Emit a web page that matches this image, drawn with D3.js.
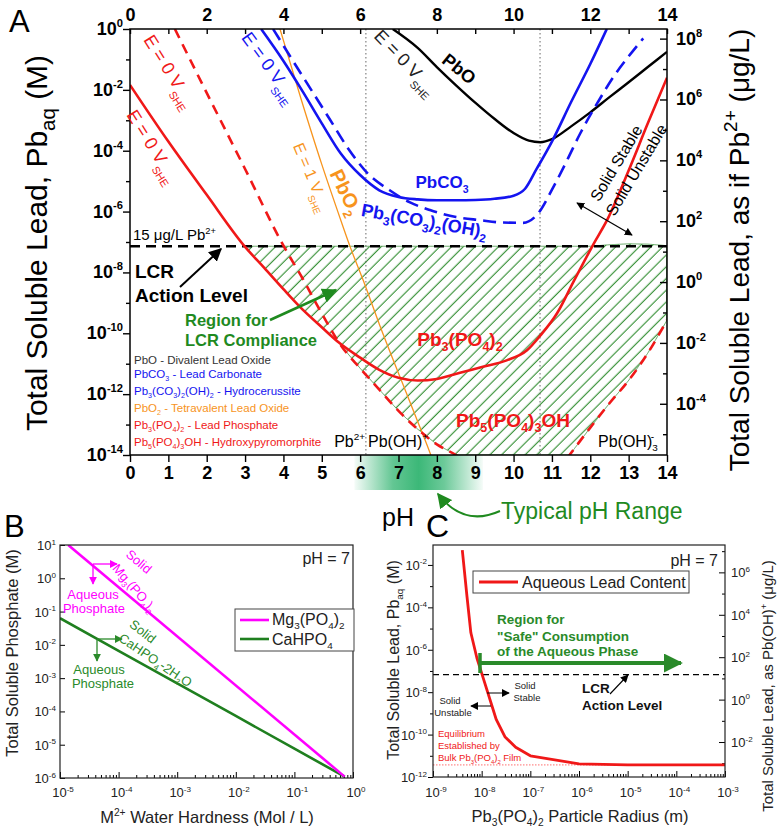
<!DOCTYPE html>
<html><head><meta charset="utf-8">
<script src="https://cdn.jsdelivr.net/npm/d3@7"></script>
<style>body{margin:0;background:#fff}svg{display:block}</style>
</head><body>
<svg id="c" width="777" height="831"></svg>
<script>
const FONT = "'Liberation Sans', Arial, Helvetica, sans-serif";

// ================= DATA =================
// Panel A : x = pH, y = log10 (total soluble lead, M)
const pHTicks = d3.range(0, 15);
const pHTopLabels = [0, 2, 4, 6, 8, 10, 12, 14];
const leftExpA = [0, -2, -4, -6, -8, -10, -12, -14];
const leftMinorExpA = [-1, -3, -5, -7, -9, -11, -13];
const rightExpA = [8, 6, 4, 2, 0, -2, -4];
const rightMinorExpA = [7, 5, 3, 1, -1, -3, -5];
const ugPerMolPb = 2.072e8;      // Pb2+
const ugPerMolPbOH = 2.242e8;    // Pb(OH)+
const lcrUgL = 15;

const pb3PO4 = [[0,-1.84],[1,-3.70],[2,-5.45],[3,-7.16],[3.5,-7.85],[4,-8.55],[4.43,-9.13],[5,-9.8],[5.47,-10.33],[6,-10.8],[6.5,-11.2],[7,-11.46],[7.5,-11.55],[8,-11.5],[8.68,-11.27],[9.2,-11.1],[9.82,-10.89],[10.35,-10.56],[10.7,-10.07],[11.13,-9.35],[11.56,-8.31],[12.07,-7.1],[12.45,-6.25],[13,-4.65],[13.5,-3.1],[14,-1.6]];
const pb5Left = [[1.17,0],[2,-2.1],[3,-4.6],[4,-7.12],[4.5,-8.2],[5,-9.35],[5.5,-10.4],[6,-11.15],[6.5,-11.85],[7,-12.55],[7.5,-13.15],[8,-13.65],[8.5,-14.0],[8.7,-14.15]];
const pb5Right = [[11.4,-14.1],[12,-13.1],[12.5,-12.3],[13,-11.55],[13.5,-10.65],[14,-9.57]];
const pbCO3 = [[3.42,0],[4,-1.05],[4.5,-2.05],[5,-3.1],[5.5,-4.1],[6,-4.8],[6.5,-5.3],[7,-5.52],[7.5,-5.6],[8,-5.63],[8.5,-5.63],[9,-5.62],[9.5,-5.58],[10,-5.48],[10.3,-5.25],[10.6,-4.6],[11,-3.7],[11.5,-2.4],[12,-1.15],[12.43,0]];
const hydrocerussite = [[3.73,0],[4.2,-0.95],[4.7,-1.95],[5.2,-2.95],[5.7,-3.95],[6.2,-4.75],[6.77,-5.3],[7.3,-5.7],[7.82,-5.95],[8.5,-6.18],[9.12,-6.28],[9.7,-6.36],[10.25,-6.37],[10.6,-6.12],[11.04,-5.19],[11.4,-4.3],[11.73,-3.45],[12.2,-2.4],[12.6,-1.58],[13,-0.9],[13.38,-0.31]];
const pbO = [[6.85,0],[7.5,-0.62],[8,-1.25],[8.5,-1.85],[9,-2.42],[9.5,-2.95],[10,-3.42],[10.4,-3.67],[10.7,-3.72],[11,-3.62],[11.5,-3.2],[12,-2.74],[12.5,-2.24],[13,-1.75],[13.5,-1.25],[14,-0.75]];
const pbO2 = [[3.91,0],[4.47,-2.34],[5.0,-4.45],[5.5,-6.3],[5.74,-7.16],[6.08,-8.26],[6.5,-9.7],[7.04,-11.44],[7.5,-12.9],[7.83,-13.96],[7.9,-14.2]];
const hatchTop = [[2.99,-7.14],[12,-7.14],[12.5,-7.09],[13,-7.06],[13.5,-7.07],[14,-7.12]];
const speciationBoundaries = [6.15, 10.69];
const typicalPH = [5.85, 9.2];

// Panel B : water hardness (M) vs total soluble phosphate (M)
const hardTicksExp = [-5, -4, -3, -2, -1, 0];
const phosTicksExp = [1, 0, -1, -2, -3, -4, -5, -6];
const mgHardness = [1.38e-5, 0.72];
const mgPhosphate = [10, 1.1e-6];
const caHardness = [1e-5, 1e-4, 1e-3, 1e-2, 1e-1, 0.72];
const caPhosphate = [6.3e-2, 6.6e-3, 7.0e-4, 7.3e-5, 7.6e-6, 1.1e-6];

// Panel C : particle radius (m) vs aqueous lead (M)
const radiusTicksExp = [-9, -8, -7, -6, -5, -4, -3];
const leftExpC = [-2, -4, -6, -8, -10, -12];
const leftMinorExpC = [-3, -5, -7, -9, -11];
const rightExpC = [6, 4, 2, 0, -2];
const rightMinorExpC = [7, 5, 3, 1, -1, -3];
const radius = [4e-9, 5e-9, 6e-9, 8e-9, 1e-8, 2e-8, 3e-8, 5e-8, 1e-7, 1e-6, 1e-5, 1e-4, 1e-3];
const leadContentExp = [-1.3, -3.5, -5.2, -6.4, -7.1, -9.3, -10.1, -10.6, -11.0, -11.38, -11.43, -11.43, -11.43];
const bulkFilmExp = -11.43;

// ================= HELPERS =================
function parseRich(s) {
  const out = []; const re = /([_^])\{([^}]*)\}/g; let last = 0, m;
  while ((m = re.exec(s))) {
    if (m.index > last) out.push([s.slice(last, m.index), 'n']);
    out.push([m[2], m[1] === '_' ? 'sub' : 'sup']);
    last = re.lastIndex;
  }
  if (last < s.length) out.push([s.slice(last), 'n']);
  return out;
}
function rich(parent, s, o) {
  const fs = o.size || 14;
  const t = parent.append('text')
    .attr('x', o.x || 0).attr('y', o.y || 0)
    .attr('font-family', FONT).attr('font-size', fs)
    .attr('font-weight', o.weight || 'normal')
    .attr('fill', o.fill || '#000')
    .attr('text-anchor', o.anchor || 'start')
    .style('white-space', 'pre');
  if (o.transform) t.attr('transform', o.transform);
  const sc = o.scale || 0.62;
  let cur = 0;
  parseRich(s).forEach(([txt, k]) => {
    const off = k === 'sub' ? fs * (o.subOff ?? 0.28) : k === 'sup' ? -fs * (o.supOff ?? 0.42) : 0;
    const ts = t.append('tspan').text(txt);
    if (off !== cur) ts.attr('dy', off - cur);
    if (k !== 'n') ts.attr('font-size', fs * sc);
    cur = off;
  });
  return t;
}
function interp(arr, x) {
  if (x < arr[0][0] || x > arr[arr.length - 1][0]) return NaN;
  for (let i = 1; i < arr.length; i++) {
    if (x <= arr[i][0]) {
      const [x0, y0] = arr[i - 1], [x1, y1] = arr[i];
      return y0 + (y1 - y0) * (x - x0) / (x1 - x0);
    }
  }
  return arr[arr.length - 1][1];
}

const svg = d3.select('#c');
const defs = svg.append('defs');
function marker(id, color, size) {
  defs.append('marker').attr('id', id).attr('viewBox', '0 0 10 10')
    .attr('refX', 9).attr('refY', 5).attr('markerUnits', 'userSpaceOnUse')
    .attr('markerWidth', size).attr('markerHeight', size).attr('orient', 'auto-start-reverse')
    .append('path').attr('d', 'M0,0 L10,5 L0,10 z').attr('fill', color);
}
marker('ab', '#000', 13);
marker('abs', '#000', 8);
marker('ag', '#1f8a1f', 15);
marker('agb', '#2a8a2a', 19);
marker('am', '#ff00ff', 8);
marker('ag2', '#2a8a2a', 8);

const grad = defs.append('linearGradient').attr('id', 'phband').attr('x1', 0).attr('x2', 1).attr('y1', 0).attr('y2', 0);
[[0, 0.05], [0.3, 0.8], [0.5, 1], [0.7, 0.75], [1, 0.05]].forEach(([o, a]) =>
  grad.append('stop').attr('offset', o).attr('stop-color', '#3cb878').attr('stop-opacity', a));

defs.append('pattern').attr('id', 'hatch').attr('patternUnits', 'userSpaceOnUse')
  .attr('width', 8.3).attr('height', 8.3).attr('patternTransform', 'rotate(45)')
  .append('line').attr('x1', 4).attr('y1', 0).attr('x2', 4).attr('y2', 8.3)
  .attr('stroke', '#2e8b2e').attr('stroke-width', 1.1);

// ================= PANEL A =================
const gA = svg.append('g');
const xA = d3.scaleLinear().domain([0, 14]).range([130, 667]);
const yA = d3.scaleLog().domain([1e-14, 1]).range([455, 29]);
const yAr = d3.scaleLog().domain([1e-14 * ugPerMolPb, ugPerMolPb]).range([455, 29]);
const Y = v => yA(Math.pow(10, v));

defs.append('clipPath').attr('id', 'clipA').append('rect')
  .attr('x', 130).attr('y', 29).attr('width', 537).attr('height', 426);

// typical pH band
gA.append('rect').attr('x', xA(typicalPH[0])).attr('y', 455)
  .attr('width', xA(typicalPH[1]) - xA(typicalPH[0])).attr('height', 35)
  .attr('fill', 'url(#phband)');

const plotA = gA.append('g').attr('clip-path', 'url(#clipA)');

// hatch region (LCR compliance)
const lcrLog = Math.log10(lcrUgL / ugPerMolPb);
function pb5At(p) {
  let v = interp(pb5Left, p); if (!isNaN(v)) return v;
  v = interp(pb5Right, p); if (!isNaN(v)) return v;
  return p < pb5Left[0][0] ? 0 : -14;
}
const samples = d3.range(2.99, 14.0001, 0.02).map(p => {
  const hi = interp(hatchTop, Math.min(p, 14));
  let lo = Math.max(-14, Math.min(interp(pb3PO4, p), pb5At(p)));
  lo = Math.min(lo, hi);
  return { p, hi, lo };
});
plotA.append('path').datum(samples)
  .attr('d', d3.area().x(d => xA(d.p)).y0(d => Y(d.lo)).y1(d => Y(d.hi)))
  .attr('fill', 'url(#hatch)').attr('stroke', '#4f9a4f').attr('stroke-width', 0.9);

// speciation boundaries
speciationBoundaries.forEach(p => plotA.append('line')
  .attr('x1', xA(p)).attr('x2', xA(p)).attr('y1', 29).attr('y2', 455)
  .attr('stroke', '#666').attr('stroke-width', 1).attr('stroke-dasharray', '1.5,2.5'));

// LCR action level
plotA.append('line').attr('x1', 130).attr('x2', 667).attr('y1', Y(lcrLog)).attr('y2', Y(lcrLog))
  .attr('stroke', '#000').attr('stroke-width', 2.6).attr('stroke-dasharray', '10,6');

const lineA = d3.line().x(d => xA(d[0])).y(d => Y(d[1])).curve(d3.curveMonotoneX);
function curve(data, color, w, dash) {
  const p = plotA.append('path').attr('d', lineA(data)).attr('fill', 'none')
    .attr('stroke', color).attr('stroke-width', w).attr('stroke-linejoin', 'round');
  if (dash) p.attr('stroke-dasharray', dash);
}
const RED = '#f01818', BLUE = '#1414f0', ORANGE = '#f7941d', GREEN = '#1f8a1f';
curve(pbO2, ORANGE, 1.3);
curve(pbO, '#000', 2.4);
curve(hydrocerussite, BLUE, 2.6, '13,7');
curve(pbCO3, BLUE, 2.6);
curve(pb5Left, RED, 2.6, '10,7');
curve(pb5Right, RED, 2.6, '10,7');
curve(pb3PO4, RED, 2.6);

// frame
gA.append('rect').attr('x', 130).attr('y', 29).attr('width', 537).attr('height', 426)
  .attr('fill', 'none').attr('stroke', '#000').attr('stroke-width', 1.5);

// axes
function styleAxis(g) { g.select('.domain').remove(); g.selectAll('line').attr('stroke', '#000').attr('stroke-width', 1.4); }
gA.append('g').attr('transform', 'translate(0,455)')
  .call(d3.axisBottom(xA).tickValues(pHTicks).tickSize(7).tickPadding(4).tickFormat(d3.format('d')))
  .call(styleAxis)
  .selectAll('text').attr('font-family', FONT).attr('font-weight', 'bold').attr('font-size', 18).attr('fill', '#000');
gA.append('g').attr('transform', 'translate(0,29)')
  .call(d3.axisTop(xA).tickValues(pHTicks).tickSizeInner(-5).tickSizeOuter(0).tickPadding(8)
    .tickFormat(d => pHTopLabels.includes(d) ? d : ''))
  .call(styleAxis)
  .selectAll('text').attr('font-family', FONT).attr('font-weight', 'bold').attr('font-size', 18).attr('fill', '#000');
gA.append('g').attr('transform', 'translate(130,0)')
  .call(d3.axisLeft(yA).tickValues(leftExpA.map(e => Math.pow(10, e))).tickSize(7).tickFormat(''))
  .call(styleAxis);
gA.append('g').attr('transform', 'translate(130,0)')
  .call(d3.axisLeft(yA).tickValues(leftMinorExpA.map(e => Math.pow(10, e))).tickSize(4).tickFormat(''))
  .call(styleAxis);
gA.append('g').attr('transform', 'translate(667,0)')
  .call(d3.axisRight(yAr).tickValues(rightExpA.map(e => Math.pow(10, e))).tickSizeInner(-7).tickFormat(''))
  .call(styleAxis);
gA.append('g').attr('transform', 'translate(667,0)')
  .call(d3.axisRight(yAr).tickValues(rightMinorExpA.map(e => Math.pow(10, e))).tickSizeInner(-4).tickFormat(''))
  .call(styleAxis);
leftExpA.forEach(e => rich(gA, `10^{${e}}`, { x: 123, y: yA(Math.pow(10, e)) + 6, size: 18, weight: 'bold', anchor: 'end', supOff: 0.45 }));
rightExpA.forEach(e => rich(gA, `10^{${e}}`, { x: 676, y: yAr(Math.pow(10, e)) + 6, size: 18, weight: 'bold', supOff: 0.45 }));

// axis titles
rich(gA, 'Total Soluble Lead, Pb_{aq} (M)', { size: 30, anchor: 'middle', transform: 'translate(47,243) rotate(-90)', subOff: 0.25, scale: 0.68 });
rich(gA, 'Total Soluble Lead, as if Pb^{2+} (\u03bcg/L)', { size: 28, anchor: 'middle', transform: 'translate(749,250) rotate(-90)', scale: 0.68 });
rich(gA, 'pH', { x: 382, y: 526, size: 25 });
rich(svg, 'A', { x: 9, y: 32, size: 31 });
rich(svg, 'B', { x: 4, y: 537, size: 31 });
rich(svg, 'C', { x: 426, y: 537, size: 32 });

// E labels along curves
function eLabel(txt, cx, cy, ang, color, size) {
  rich(gA, txt, { size, fill: color, anchor: 'middle', transform: `translate(${cx},${cy}) rotate(${ang})`, y: size * 0.35, subOff: 0.42, scale: 0.6 });
}
eLabel('E = 0 V_{SHE}', 153, 146, 58, RED, 18);
eLabel('E = 0 V_{SHE}', 170, 71, 58, RED, 18);
eLabel('E = 0 V_{SHE}', 270, 67, 54, BLUE, 18);
eLabel('E = 1 V_{SHE}', 312, 177, 67, ORANGE, 16);
eLabel('E = 0 V_{SHE}', 406, 62, 46, '#222', 18);
rich(gA, 'PbO_{2}', { size: 20, weight: 'bold', fill: ORANGE, anchor: 'middle', transform: 'translate(346,192) rotate(64)', y: 7 });
rich(gA, 'PbO', { size: 18, weight: 'bold', fill: '#000', anchor: 'middle', transform: 'translate(459,69) rotate(39)', y: 6 });
rich(gA, 'PbCO_{3}', { x: 442, y: 188, size: 17, weight: 'bold', fill: BLUE, anchor: 'middle' });
rich(gA, 'Pb_{3}(CO_{3})_{2}(OH)_{2}', { size: 18, weight: 'bold', fill: BLUE, anchor: 'middle', transform: 'translate(424,222) rotate(10)', y: 5, scale: 0.66 });
rich(gA, 'Pb_{3}(PO_{4})_{2}', { x: 460, y: 346, size: 19, weight: 'bold', fill: RED, anchor: 'middle', scale: 0.66 });
rich(gA, 'Pb_{5}(PO_{4})_{3}OH', { x: 513, y: 427, size: 19, weight: 'bold', fill: RED, anchor: 'middle', scale: 0.66 });

// LCR annotations
rich(gA, '15 \u03bcg/L Pb^{2+}', { x: 133, y: 240, size: 15 });
rich(gA, 'LCR', { x: 135, y: 278, size: 19, weight: 'bold' });
rich(gA, 'Action Level', { x: 135, y: 302, size: 19, weight: 'bold' });
gA.append('line').attr('x1', 180).attr('y1', 287).attr('x2', 221).attr('y2', 249)
  .attr('stroke', '#000').attr('stroke-width', 2).attr('marker-end', 'url(#ab)');
rich(gA, 'Region for', { x: 185, y: 326, size: 16.5, weight: 'bold', fill: GREEN });
rich(gA, 'LCR Compliance', { x: 185, y: 346, size: 16.5, weight: 'bold', fill: GREEN });
gA.append('line').attr('x1', 270).attr('y1', 320).attr('x2', 336).attr('y2', 290)
  .attr('stroke', GREEN).attr('stroke-width', 2.6).attr('marker-end', 'url(#ag)');

// species legend
const legA = [
  ['PbO - Divalent Lead Oxide', '#333'],
  ['PbCO_{3} - Lead Carbonate', BLUE],
  ['Pb_{3}(CO_{3})_{2}(OH)_{2} - Hydrocerussite', BLUE],
  ['PbO_{2} - Tetravalent Lead Oxide', ORANGE],
  ['Pb_{3}(PO_{4})_{2} - Lead Phosphate', RED],
  ['Pb_{5}(PO_{4})_{3}OH - Hydroxypyromorphite', RED]
];
const legY = [364, 378, 395, 412, 429, 446];
legA.forEach(([t, c], i) => rich(gA, t, { x: 134, y: legY[i], size: 11.5, fill: c }));

// speciation labels
rich(gA, 'Pb^{2+}', { x: 365, y: 447, size: 16, anchor: 'end' });
rich(gA, 'Pb(OH)^{+}', { x: 368, y: 447, size: 16 });
const t3 = rich(gA, 'Pb(OH)_{3}', { x: 598, y: 447, size: 16 });
t3.append('tspan').attr('dx', -7).attr('dy', -16 * 0.28 - 16 * 0.42).attr('font-size', 10).text('-');

// solid stable / unstable
rich(gA, 'Solid Stable', { size: 16, anchor: 'middle', transform: 'translate(621,166) rotate(-59)' });
rich(gA, 'Solid Unstable', { size: 16, anchor: 'middle', transform: 'translate(630,166) rotate(-59)', y: 13 });
gA.append('line').attr('x1', 577).attr('y1', 203).attr('x2', 632).attr('y2', 235)
  .attr('stroke', '#000').attr('stroke-width', 1.3)
  .attr('marker-start', 'url(#abs)').attr('marker-end', 'url(#abs)');

// typical pH range
rich(svg, 'Typical pH Range', { x: 501, y: 519, size: 23, fill: GREEN });
svg.append('path').attr('d', 'M 500 511 C 480 520, 458 520, 438 494')
  .attr('fill', 'none').attr('stroke', GREEN).attr('stroke-width', 2)
  .attr('marker-end', 'url(#ag)');

// ================= PANEL B =================
const gB = svg.append('g');
const xB = d3.scaleLog().domain([1e-5, 1]).range([60, 353]);
const yB = d3.scaleLog().domain([1e-6, 10]).range([778, 545]);
defs.append('clipPath').attr('id', 'clipB').append('rect').attr('x', 60).attr('y', 545).attr('width', 293).attr('height', 233);
const minorB = [];
hardTicksExp.slice(0, -1).forEach(e => d3.range(2, 10).forEach(m => minorB.push(m * Math.pow(10, e))));
gB.append('g').attr('transform', 'translate(0,778)')
  .call(d3.axisBottom(xB).tickValues(minorB).tickSizeInner(-3).tickSizeOuter(0).tickFormat('')).call(styleAxis);
gB.append('g').attr('transform', 'translate(0,778)')
  .call(d3.axisBottom(xB).tickValues(hardTicksExp.map(e => Math.pow(10, e))).tickSizeInner(-6).tickSizeOuter(0).tickFormat('')).call(styleAxis);
gB.append('g').attr('transform', 'translate(60,0)')
  .call(d3.axisLeft(yB).tickValues(phosTicksExp.map(e => Math.pow(10, e))).tickSizeInner(-5).tickSizeOuter(0).tickFormat('')).call(styleAxis);
gB.selectAll('line').attr('stroke-width', 1);
hardTicksExp.forEach(e => rich(gB, `10^{${e}}`, { x: xB(Math.pow(10, e)) + 3, y: 797, size: 13, anchor: 'middle', fill: '#222' }));
phosTicksExp.forEach(e => rich(gB, `10^{${e}}`, { x: 56, y: yB(Math.pow(10, e)) + 5, size: 13, anchor: 'end', fill: '#222' }));
const lineB = d3.line().x(d => xB(d[0])).y(d => yB(d[1]));
const pB = gB.append('g').attr('clip-path', 'url(#clipB)');
pB.append('path').attr('d', lineB(d3.zip(caHardness, caPhosphate))).attr('fill', 'none').attr('stroke', '#1f7f1f').attr('stroke-width', 2.6);
pB.append('path').attr('d', lineB(d3.zip(mgHardness, mgPhosphate))).attr('fill', 'none').attr('stroke', '#ff00ff').attr('stroke-width', 2.6);
gB.append('rect').attr('x', 60).attr('y', 545).attr('width', 293).attr('height', 233).attr('fill', 'none').attr('stroke', '#222').attr('stroke-width', 1.2);
rich(gB, 'M^{2+} Water Hardness (Mol / L)', { x: 207, y: 823, size: 16.5, anchor: 'middle', fill: '#222' });
rich(gB, 'Total Soluble Phosphate (M)', { size: 16.5, anchor: 'middle', fill: '#222', transform: 'translate(18,653) rotate(-90)' });
rich(gB, 'pH = 7', { x: 350, y: 564, size: 16, anchor: 'end', fill: '#222' });
// legend
gB.append('rect').attr('x', 235).attr('y', 609).attr('width', 119).attr('height', 42).attr('fill', '#fff').attr('stroke', '#444').attr('stroke-width', 1);
gB.append('line').attr('x1', 240).attr('x2', 269).attr('y1', 620).attr('y2', 620).attr('stroke', '#ff00ff').attr('stroke-width', 2.6);
gB.append('line').attr('x1', 240).attr('x2', 269).attr('y1', 639).attr('y2', 639).attr('stroke', '#1f7f1f').attr('stroke-width', 2.6);
rich(gB, 'Mg_{3}(PO_{4})_{2}', { x: 272, y: 625, size: 16, fill: '#222', subOff: 0.22 });
rich(gB, 'CaHPO_{4}', { x: 272, y: 645, size: 16, fill: '#222', subOff: 0.22 });
// annotations
const MAG = '#ff00ff', GRN = '#2a8a2a';
rich(gB, 'Solid', { size: 13, fill: MAG, anchor: 'middle', transform: 'translate(136,565) rotate(40)' });
rich(gB, 'Mg_{3}(PO_{4})_{2}', { size: 13, fill: MAG, anchor: 'middle', transform: 'translate(131,591) rotate(49)' });
gB.append('line').attr('x1', 93).attr('y1', 564).attr('x2', 117).attr('y2', 564).attr('stroke', MAG).attr('stroke-width', 1.3).attr('marker-end', 'url(#am)');
gB.append('line').attr('x1', 93).attr('y1', 564).attr('x2', 93).attr('y2', 584).attr('stroke', MAG).attr('stroke-width', 1.3).attr('marker-end', 'url(#am)');
rich(gB, 'Aqueous', { x: 93, y: 599, size: 13, fill: MAG, anchor: 'middle' });
rich(gB, 'Phosphate', { x: 94, y: 613, size: 13, fill: MAG, anchor: 'middle' });
rich(gB, 'Solid', { size: 13, fill: GRN, anchor: 'middle', transform: 'translate(140,635) rotate(38)' });
rich(gB, 'CaHPO_{4}-2H_{2}O', { size: 13, fill: GRN, anchor: 'middle', transform: 'translate(153,664) rotate(34)' });
gB.append('line').attr('x1', 97).attr('y1', 639).attr('x2', 122).attr('y2', 639).attr('stroke', GRN).attr('stroke-width', 1.3).attr('marker-end', 'url(#ag2)');
gB.append('line').attr('x1', 97).attr('y1', 639).attr('x2', 97).attr('y2', 661).attr('stroke', GRN).attr('stroke-width', 1.3).attr('marker-end', 'url(#ag2)');
rich(gB, 'Aqueous', { x: 99, y: 674, size: 13, fill: GRN, anchor: 'middle' });
rich(gB, 'Phosphate', { x: 103, y: 688, size: 13, fill: GRN, anchor: 'middle' });

// ================= PANEL C =================
const gC = svg.append('g');
const xC = d3.scaleLog().domain([1e-9, 1e-3]).range([433, 725]);
const yC = d3.scaleLog().domain([1e-12, Math.pow(10, -1.06)]).range([777, 545]);
const yCr = d3.scaleLog().domain([1e-12 * ugPerMolPbOH, Math.pow(10, -1.06) * ugPerMolPbOH]).range([777, 545]);
defs.append('clipPath').attr('id', 'clipC').append('rect').attr('x', 433).attr('y', 545).attr('width', 292).attr('height', 232);
const minorC = [];
radiusTicksExp.slice(0, -1).forEach(e => d3.range(2, 10).forEach(m => minorC.push(m * Math.pow(10, e))));
gC.append('g').attr('transform', 'translate(0,777)')
  .call(d3.axisBottom(xC).tickValues(minorC).tickSizeInner(-3).tickSizeOuter(0).tickFormat('')).call(styleAxis);
gC.append('g').attr('transform', 'translate(0,777)')
  .call(d3.axisBottom(xC).tickValues(radiusTicksExp.map(e => Math.pow(10, e))).tickSizeInner(-6).tickSizeOuter(0).tickFormat('')).call(styleAxis);
gC.append('g').attr('transform', 'translate(433,0)')
  .call(d3.axisLeft(yC).tickValues(leftExpC.map(e => Math.pow(10, e))).tickSize(5).tickFormat('')).call(styleAxis);
gC.append('g').attr('transform', 'translate(433,0)')
  .call(d3.axisLeft(yC).tickValues(leftMinorExpC.map(e => Math.pow(10, e))).tickSize(3).tickFormat('')).call(styleAxis);
gC.append('g').attr('transform', 'translate(725,0)')
  .call(d3.axisRight(yCr).tickValues(rightExpC.map(e => Math.pow(10, e))).tickSizeInner(-6).tickFormat('')).call(styleAxis);
gC.append('g').attr('transform', 'translate(725,0)')
  .call(d3.axisRight(yCr).tickValues(rightMinorExpC.map(e => Math.pow(10, e))).tickSizeInner(-3).tickFormat('')).call(styleAxis);
gC.selectAll('line').attr('stroke-width', 1);
radiusTicksExp.forEach(e => rich(gC, `10^{${e}}`, { x: xC(Math.pow(10, e)) + 3, y: 797, size: 13, anchor: 'middle', fill: '#222' }));
leftExpC.forEach(e => rich(gC, `10^{${e}}`, { x: 427, y: yC(Math.pow(10, e)) + 5, size: 13, anchor: 'end', fill: '#222' }));
rightExpC.forEach(e => rich(gC, `10^{${e}}`, { x: 731, y: yCr(Math.pow(10, e)) + 5, size: 13, fill: '#222' }));
const pC = gC.append('g').attr('clip-path', 'url(#clipC)');
pC.append('line').attr('x1', 433).attr('x2', 725).attr('y1', yC(Math.pow(10, bulkFilmExp))).attr('y2', yC(Math.pow(10, bulkFilmExp)))
  .attr('stroke', '#ff6f6f').attr('stroke-width', 1).attr('stroke-dasharray', '1.5,1.5');
const lcrC = lcrUgL / ugPerMolPbOH;
pC.append('line').attr('x1', 433).attr('x2', 725).attr('y1', yC(lcrC)).attr('y2', yC(lcrC))
  .attr('stroke', '#000').attr('stroke-width', 1.4).attr('stroke-dasharray', '6,4');
pC.append('path').attr('d', d3.line().x(d => xC(d[0])).y(d => yC(Math.pow(10, d[1])))(d3.zip(radius, leadContentExp)))
  .attr('fill', 'none').attr('stroke', RED).attr('stroke-width', 2.8).attr('stroke-linejoin', 'round');
gC.append('rect').attr('x', 433).attr('y', 545).attr('width', 292).attr('height', 232).attr('fill', 'none').attr('stroke', '#222').attr('stroke-width', 1.2);
rich(gC, 'Pb_{3}(PO_{4})_{2} Particle Radius (m)', { x: 580, y: 822, size: 16.5, anchor: 'middle', fill: '#222', subOff: 0.22 });
rich(gC, 'Total Soluble Lead, Pb_{aq} (M)', { size: 16, anchor: 'middle', fill: '#222', transform: 'translate(399,660) rotate(-90)' });
rich(gC, 'Total Soluble Lead, as Pb(OH)^{+} (\u03bcg/L)', { size: 15, anchor: 'middle', fill: '#222', transform: 'translate(773,686) rotate(-90)' });
rich(gC, 'pH = 7', { x: 718, y: 566, size: 16, anchor: 'end', fill: '#222' });
gC.append('rect').attr('x', 473).attr('y', 571).attr('width', 216).attr('height', 22).attr('fill', '#fff').attr('stroke', '#444').attr('stroke-width', 1);
gC.append('line').attr('x1', 479).attr('x2', 518).attr('y1', 582).attr('y2', 582).attr('stroke', RED).attr('stroke-width', 2.8);
rich(gC, 'Aqueous Lead Content', { x: 522, y: 588, size: 16, fill: '#222' });
rich(gC, 'Region for', { x: 497, y: 624, size: 13.5, weight: 'bold', fill: GRN });
rich(gC, '"Safe" Consumption', { x: 497, y: 641, size: 13.5, weight: 'bold', fill: GRN });
rich(gC, 'of the Aqueous Phase', { x: 497, y: 656, size: 13.5, weight: 'bold', fill: GRN });
gC.append('line').attr('x1', 480).attr('x2', 480).attr('y1', 653).attr('y2', 673).attr('stroke', GRN).attr('stroke-width', 3.5);
gC.append('line').attr('x1', 480).attr('x2', 681).attr('y1', 663).attr('y2', 663).attr('stroke', GRN).attr('stroke-width', 4).attr('marker-end', 'url(#agb)');
rich(gC, 'LCR', { x: 582, y: 693, size: 13.5, weight: 'bold', fill: '#111' });
rich(gC, 'Action Level', { x: 582, y: 710, size: 13.5, weight: 'bold', fill: '#111' });
gC.append('line').attr('x1', 610).attr('y1', 694).attr('x2', 628).attr('y2', 675).attr('stroke', '#000').attr('stroke-width', 1.1).attr('marker-end', 'url(#abs)');
rich(gC, 'Solid', { x: 525, y: 689, size: 9.5, anchor: 'middle', fill: '#222' });
rich(gC, 'Stable', { x: 527, y: 701, size: 9.5, anchor: 'middle', fill: '#222' });
gC.append('line').attr('x1', 487).attr('y1', 693).attr('x2', 509).attr('y2', 693).attr('stroke', '#000').attr('stroke-width', 1).attr('marker-end', 'url(#abs)');
rich(gC, 'Solid', { x: 450, y: 704, size: 9.5, anchor: 'middle', fill: '#222' });
rich(gC, 'Unstable', { x: 453, y: 716, size: 9.5, anchor: 'middle', fill: '#222' });
gC.append('line').attr('x1', 491).attr('y1', 706).attr('x2', 471).attr('y2', 706).attr('stroke', '#000').attr('stroke-width', 1).attr('marker-end', 'url(#abs)');
rich(gC, 'Equilibrium', { x: 438, y: 737, size: 9.5, fill: RED });
rich(gC, 'Established by', { x: 438, y: 749, size: 9.5, fill: RED });
rich(gC, 'Bulk Pb_{3}(PO_{4})_{2} Film', { x: 438, y: 761, size: 9.5, fill: RED });
</script>
</body></html>
